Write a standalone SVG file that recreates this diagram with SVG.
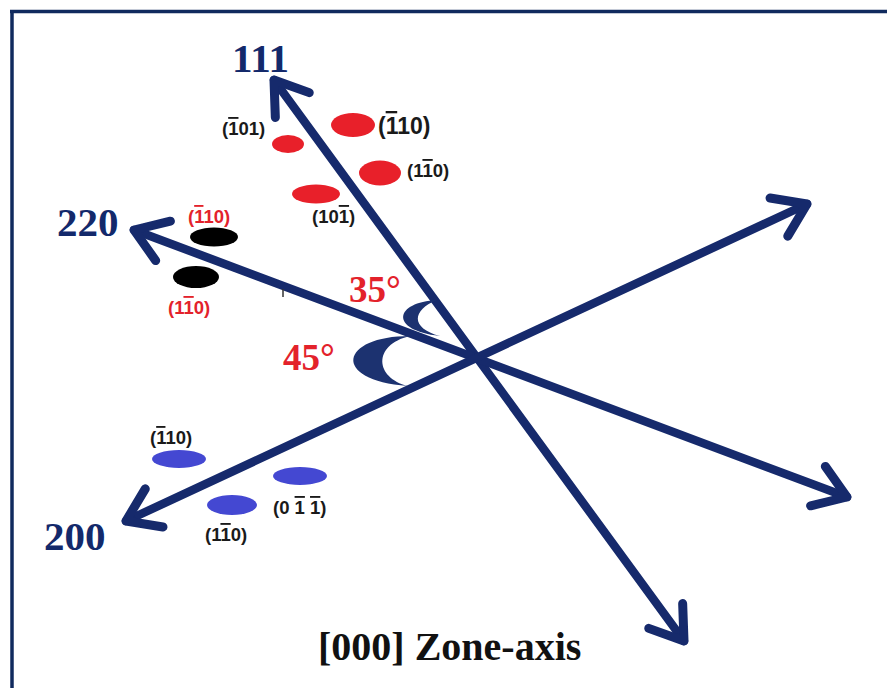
<svg xmlns="http://www.w3.org/2000/svg" width="887" height="688" viewBox="0 0 887 688">
<style>
  .axis { stroke: #162a6c; stroke-width: 8.5; fill: none; stroke-linecap: round; }
  .axlbl { font-family: "Liberation Serif", "Times New Roman", serif; font-weight: bold; font-size: 41px; fill: #13296b; }
  .ang { font-family: "Liberation Serif", "Times New Roman", serif; font-weight: bold; font-size: 37px; fill: #e3222b; }
  .pl { font-family: "Liberation Sans", Arial, sans-serif; font-weight: bold; font-size: 18.5px; fill: #1a1a1a; }
  .plr { font-family: "Liberation Sans", Arial, sans-serif; font-weight: bold; font-size: 18.5px; fill: #e3222b; }
  .ob { text-decoration: overline; }
  .red { fill: #e8202a; }
  .blk { fill: #000000; }
  .blu { fill: #4448d2; }
  .arc { fill: #1c3270; }
  .title { font-family: "Liberation Serif", "Times New Roman", serif; font-weight: bold; font-size: 40px; fill: #111111; }
</style>
<defs>
  <marker id="head" markerUnits="userSpaceOnUse" markerWidth="80" markerHeight="80" refX="0" refY="0" viewBox="-45 -40 60 80" orient="auto-start-reverse" overflow="visible">
    <path d="M -31 -21 L 0 0 L -31 21" fill="none" stroke="#162a6c" stroke-width="9" stroke-linecap="round" stroke-linejoin="round"/>
  </marker>
</defs>
<rect x="0" y="0" width="887" height="688" fill="#ffffff"/>
<g id="frame" stroke="#102a5e" stroke-width="3.5">
  <line x1="10" y1="11.5" x2="887" y2="11.5"/>
  <line x1="12" y1="10" x2="12" y2="688"/>
</g>
<g id="connectors">
  <line class="axis" x1="274" y1="80" x2="684" y2="641" marker-start="url(#head)" marker-end="url(#head)"/>
  <line class="axis" x1="134" y1="230" x2="847" y2="497" marker-start="url(#head)" marker-end="url(#head)"/>
  <line class="axis" x1="126" y1="521" x2="807" y2="204" marker-start="url(#head)" marker-end="url(#head)"/>
  <line x1="283" y1="289" x2="283" y2="297" stroke="#333" stroke-width="1.5"/>
</g>
<g id="angle35">
  <path class="arc" d="M 437 300 C 395 302 388 330 440 336 C 410 328 412 310 437 300 Z"/>
  <text class="ang" x="349" y="302">35°</text>
</g>
<g id="angle45">
  <path class="arc" d="M 410 336 C 340 336 330 380 408 386 C 375 378 372 345 410 336 Z"/>
  <text class="ang" x="283" y="370">45°</text>
</g>
<g id="label-111"><text class="axlbl" x="232" y="72">111</text></g>
<g id="label-220"><text class="axlbl" x="57" y="236">220</text></g>
<g id="label-200"><text class="axlbl" x="44" y="550">200</text></g>
<g id="spots-111">
  <text class="pl" x="222" y="135">(<tspan class="ob">1</tspan>01)</text>
  <ellipse class="red" cx="288" cy="144" rx="16" ry="9"/>
  <ellipse class="red" cx="353" cy="125" rx="22" ry="12"/>
  <text class="pl" x="378" y="134" style="font-size:23px">(<tspan class="ob">1</tspan>10)</text>
  <ellipse class="red" cx="380" cy="173" rx="21" ry="12.5"/>
  <text class="pl" x="407" y="177">(1<tspan class="ob">1</tspan>0)</text>
  <ellipse class="red" cx="316" cy="194" rx="24" ry="9.5"/>
  <text class="pl" x="312" y="223">(10<tspan class="ob">1</tspan>)</text>
</g>
<g id="spots-220">
  <text class="plr" x="188" y="223">(<tspan class="ob">1</tspan>10)</text>
  <ellipse class="blk" cx="214" cy="237" rx="24" ry="9.5"/>
  <ellipse class="blk" cx="196" cy="277" rx="23" ry="11"/>
  <text class="plr" x="168" y="314">(1<tspan class="ob">1</tspan>0)</text>
</g>
<g id="spots-200">
  <text class="pl" x="150" y="444">(<tspan class="ob">1</tspan>10)</text>
  <ellipse class="blu" cx="179" cy="459" rx="27" ry="9"/>
  <ellipse class="blu" cx="300" cy="476" rx="27" ry="9"/>
  <text class="pl" x="273" y="514">(0 <tspan class="ob">1</tspan> <tspan class="ob">1</tspan>)</text>
  <ellipse class="blu" cx="232" cy="505" rx="25" ry="10"/>
  <text class="pl" x="205" y="541">(1<tspan class="ob">1</tspan>0)</text>
</g>
<g id="title"><text class="title" x="318" y="660">[000] Zone-axis</text></g>
</svg>
